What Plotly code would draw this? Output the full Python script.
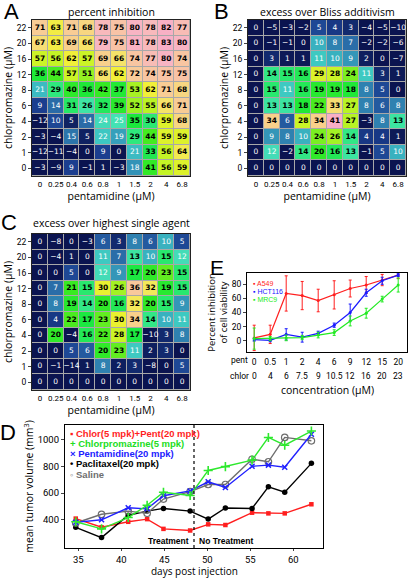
import plotly.graph_objects as go

W, H = 410, 578

# ---------------- data ----------------
pent_labels = ["0", "0.25", "0.4", "0.6", "0.8", "1", "1.5", "2", "4", "6.8"]
chlor_labels = ["0", "1", "2", "4", "6", "8", "12", "16", "20", "22"]  # bottom -> top

# rows listed from top (22 uM) to bottom (0 uM)
inhibition = [
    [71, 63, 71, 68, 78, 75, 80, 78, 82, 77],
    [67, 63, 69, 66, 79, 75, 81, 78, 83, 80],
    [57, 56, 62, 57, 69, 66, 74, 77, 80, 74],
    [36, 44, 57, 51, 66, 62, 72, 74, 75, 75],
    [21, 29, 40, 36, 42, 37, 53, 62, 71, 68],
    [9, 14, 31, 26, 32, 39, 52, 55, 66, 71],
    [-12, 10, 5, 14, 24, 25, 35, 30, 59, 68],
    [-3, -4, 15, 5, 22, 19, 29, 44, 59, 59],
    [-12, -11, -4, 0, 9, 0, 21, 33, 56, 64],
    [-3, -9, 9, -1, 1, -3, 18, 41, 56, 59],
]
bliss_excess = [
    [0, -5, -3, -2, 5, 4, 3, -4, -5, -10],
    [0, -1, -1, 0, 10, 8, 7, -2, -2, -6],
    [0, 3, 1, 1, 11, 10, 9, 2, 0, -7],
    [0, 14, 15, 16, 29, 28, 24, 11, 3, 1],
    [0, 15, 11, 16, 19, 19, 18, 8, 5, 0],
    [0, 13, 13, 18, 22, 33, 27, 8, 6, 8],
    [0, 34, 6, 28, 34, 41, 27, -3, 8, 13],
    [0, 9, 8, 10, 24, 26, 14, 4, 4, 1],
    [0, 12, -2, 14, 20, 16, 13, -1, 5, 10],
    [0, 0, 0, 0, 0, 0, 0, 0, 0, 0],
]
hsa_excess = [
    [0, -8, 0, -3, 6, 3, 8, 6, 10, 5],
    [0, -4, 1, 0, 11, 7, 13, 10, 15, 12],
    [0, 0, 5, 0, 12, 9, 17, 20, 23, 15],
    [0, 7, 21, 15, 30, 26, 36, 32, 19, 15],
    [0, 8, 19, 14, 20, 16, 32, 20, 15, 9],
    [0, 4, 22, 17, 23, 30, 34, 14, 10, 11],
    [0, 20, -4, 16, 22, 28, 17, -10, 3, 8],
    [0, 0, 5, 6, 20, 23, 11, 2, 3, 0],
    [0, -1, -14, 1, 8, 2, 3, -8, 0, 5],
    [0, 0, 0, 0, 0, 0, 0, 0, 0, 0],
]

# Panel E: cell viability dose response
e_pent = ["0", "0.5", "1", "2", "4", "6", "9", "12", "15", "20"]
e_chlor = ["0", "4", "6", "7.5", "9", "10.5", "12", "16", "20", "23"]
a549_mean = [4, 9, 67, 64, 57, 65, 74, 79, 86, 93]
a549_err = [18, 13, 25, 20, 16, 20, 12, 12, 8, 5]
hct116_mean = [1.5, 0.5, 9, 5, 10.5, 22, 40, 68, 85, 93]
hct116_err = [2, 2, 8, 7, 3, 3, 12, 5, 5, 2]
mrc9_mean = [3, 3, 4, 4.5, 8, 11.5, 28, 39, 59, 79]
mrc9_err = [15, 3, 4, 3, 4, 4, 7, 7, 4, 10]

# Panel D: xenograft tumour volume
days = [34.7, 37.7, 40.8, 43.0, 44.9, 48.0, 50.1, 52.1, 55.2, 57.1, 59.0, 62.1]
combo_vol = [409, 344, 385, 405, 332, 320, 366, 361, 453, 448, 448, 516]
chlor_vol = [385, 332, 417, 509, 606, 582, 769, 798, 846, 1016, 958, 1064]
pent_vol = [381, 400, 490, 482, 580, 616, 684, 642, 800, 809, 793, 1040]
pacli_vol = [344, 267, 434, 465, 485, 465, 405, 488, 485, 647, 606, 822]
saline_vol = [376, 441, 465, 448, 555, 611, 664, 664, 853, 834, 1016, 991]
treatment_end = 48.45

# ---------------- helpers ----------------
def px_x(p):
    return p / W


def px_y(p):
    return 1 - p / H


CS = [
    [0.00, "#0b1450"], [0.06, "#0f2262"], [0.11, "#1b3f90"], [0.17, "#2a6ca8"],
    [0.22, "#3496b8"], [0.26, "#3cc3c4"], [0.30, "#44e2b4"], [0.35, "#2ee87c"],
    [0.42, "#1ae83c"], [0.52, "#3aea20"], [0.60, "#88f022"], [0.68, "#c8f426"],
    [0.74, "#f0f032"], [0.79, "#f4e664"], [0.83, "#f8d08c"], [0.90, "#f8c4a4"],
    [0.95, "#f8b6c2"], [1.00, "#f8aec6"],
]

FONT = "Open Sans"
TICKFONT = "Roboto"
CELLFONT = "DejaVu Sans"

fig = go.Figure()


def add_heat(rows, zmax, xa, ya):
    z = rows[::-1]
    fig.add_trace(go.Heatmap(
        z=z, x=pent_labels, y=chlor_labels, zmin=0, zmax=zmax,
        colorscale=CS, showscale=False, xgap=1, ygap=1,
        xaxis=xa, yaxis=ya, hoverinfo="skip"))
    xs, ys, ts, cs = [], [], [], []
    for i, r in enumerate(z):
        for j, v in enumerate(r):
            xs.append(pent_labels[j])
            ys.append(chlor_labels[i])
            s = str(v).replace("-", "\u2212")
            dark = v / zmax < 0.305
            ts.append(s if dark else "<b>" + s + "</b>")
            cs.append("white" if dark else "black")
    fig.add_trace(go.Scatter(
        x=xs, y=ys, text=ts, mode="text", xaxis=xa, yaxis=ya,
        textfont=dict(family=CELLFONT, size=7.5, color=cs),
        hoverinfo="skip", showlegend=False))


add_heat(inhibition, 83, "x", "y")
add_heat(bliss_excess, 41, "x2", "y2")
add_heat(hsa_excess, 41, "x3", "y3")

# Panel E
e_idx = list(range(len(e_pent)))
for mean, err, col in [(a549_mean, a549_err, "#ff1f1f"),
                       (hct116_mean, hct116_err, "#1a1aff"),
                       (mrc9_mean, mrc9_err, "#22ea22")]:
    fig.add_trace(go.Scatter(
        x=e_idx, y=mean, mode="lines+markers", xaxis="x4", yaxis="y4",
        line=dict(color=col, width=1.2), marker=dict(color=col, size=3),
        error_y=dict(type="data", array=err, color=col, thickness=1, width=1.5),
        showlegend=False, cliponaxis=True))

# Panel D
d_series = [
    (combo_vol, "#ff1f1f", dict(symbol="square", size=4.5, color="#ff1f1f")),
    (pacli_vol, "#000000", dict(symbol="circle", size=5.5, color="#000000")),
    (saline_vol, "#6e6e6e", dict(symbol="circle-open", size=6.5, color="#6e6e6e", line=dict(width=1.2))),
    (pent_vol, "#2020ff", dict(symbol="x-thin", size=5, color="#2020ff", line=dict(width=1.5, color="#2020ff"))),
    (chlor_vol, "#2ee82e", dict(symbol="cross-thin", size=6.5, color="#2ee82e", line=dict(width=1.6, color="#2ee82e"))),
]
for vals, col, mk in d_series:
    fig.add_trace(go.Scatter(
        x=days, y=vals, mode="lines+markers", xaxis="x5", yaxis="y5",
        line=dict(color=col, width=1.4), marker=mk, showlegend=False))

# ---------------- axes ----------------
tickf = dict(family=TICKFONT, size=8, color="black")
etickf = dict(family=TICKFONT, size=8.5, color="black")
dtickf = dict(family=TICKFONT, size=9.5, color="black")
titlef = dict(family=FONT, size=10.5, color="black")

heat_x = [32, 190]
heat_x2 = [248, 406]
heat_y = [20, 176]
heat_y3 = [234, 390]


def heat_axes(xdom, ydom):
    xa = dict(type="category", domain=[px_x(xdom[0]), px_x(xdom[1])],
              showline=True, mirror=True, linecolor="#222", linewidth=1,
              ticks="", tickangle=0, tickfont=tickf, showgrid=False, zeroline=False,
              title=dict(text="pentamidine (\u00b5M)", font=titlef, standoff=2))
    ya = dict(type="category", domain=[px_y(ydom[1]), px_y(ydom[0])],
              showline=True, mirror=True, linecolor="#222", linewidth=1,
              ticks="outside", ticklen=3, tickfont=etickf, showgrid=False,
              zeroline=False,
              title=dict(text="chlorpromazine (\u00b5M)", font=titlef, standoff=2))
    return xa, ya


xa1, ya1 = heat_axes(heat_x, heat_y)
xa2, ya2 = heat_axes(heat_x2, heat_y)
xa3, ya3 = heat_axes(heat_x, heat_y3)

fig.update_layout(
    width=W, height=H, autosize=False,
    margin=dict(l=0, r=0, t=0, b=0),
    paper_bgcolor="white", plot_bgcolor="white",
    font=dict(family=FONT, size=10, color="black"),
    xaxis=dict(**xa1, anchor="y"), yaxis=dict(**ya1, anchor="x"),
    xaxis2=dict(**xa2, anchor="y2"), yaxis2=dict(**ya2, anchor="x2"),
    xaxis3=dict(**xa3, anchor="y3"), yaxis3=dict(**ya3, anchor="x3"),
    xaxis4=dict(domain=[px_x(247), px_x(407)], anchor="y4", range=[-0.45, 9.55],
                tickvals=e_idx, ticktext=e_pent, ticks="", tickangle=0,
                tickfont=etickf, ticklabelstandoff=2,
                showline=True, mirror=True, linecolor="black", linewidth=1,
                showgrid=False, zeroline=False),
    yaxis4=dict(domain=[px_y(352), px_y(273)], anchor="x4", range=[-16, 96],
                tickvals=[0, 20, 40, 60, 80], ticks="outside", ticklen=3,
                tickfont=etickf, showline=True, mirror=True, linecolor="black",
                linewidth=1, showgrid=False, zeroline=False,
                title=dict(text="Percent inhibition<br>of cell viability",
                           font=dict(family=FONT, size=9.5), standoff=2)),
    xaxis5=dict(domain=[px_x(65), px_x(323)], anchor="y5", range=[33.45, 63.45],
                tickvals=[35, 40, 45, 50, 55, 60], ticks="outside", ticklen=2,
                tickangle=0, tickfont=dtickf, showline=True,
                mirror=True, linecolor="black", linewidth=1.2, showgrid=False,
                zeroline=False),
    yaxis5=dict(domain=[px_y(548), px_y(425)], anchor="x5", range=[189, 1109],
                tickvals=[400, 600, 800, 1000], ticks="outside", ticklen=3,
                tickfont=dtickf, showline=True, mirror=True,
                linecolor="black", linewidth=1.2, showgrid=False, zeroline=False,
                title=dict(text="mean tumor volume (mm<sup>3</sup>)", font=titlef,
                           standoff=1)),
)

# gray background behind heatmap gaps
shapes = []
for xr, yr in [("x", "y"), ("x2", "y2"), ("x3", "y3")]:
    shapes.append(dict(type="rect", xref=xr + " domain", yref=yr + " domain",
                       x0=0, x1=1, y0=0, y1=1, layer="below",
                       fillcolor="#a8a8a8", line=dict(width=0)))
shapes.append(dict(type="line", xref="x5", yref="y5 domain", x0=treatment_end,
                   x1=treatment_end, y0=0, y1=1,
                   line=dict(color="black", width=1.2, dash="dot")))

ann = []


def label(txt, x, y, size=24):
    ann.append(dict(text=txt, x=px_x(x), y=px_y(y), xref="paper", yref="paper",
                    showarrow=False, xanchor="center", yanchor="middle",
                    font=dict(family="Liberation Sans", size=size, color="black")))


label("A", 11, 12, 22)
label("B", 221, 12, 22)
label("C", 9, 222, 22)
label("E", 217, 267, 21)
label("D", 8, 432, 22)


def title(txt, x, y, size=10.5):
    ann.append(dict(text=txt, x=px_x(x), y=px_y(y), xref="paper", yref="paper",
                    showarrow=False, xanchor="center", yanchor="middle",
                    font=dict(family=FONT, size=size, color="black")))


title("percent inhibition", 111, 12)
title("excess over Bliss additivism", 327, 12)
title("excess over highest single agent", 111, 223)
title("concentration (\u00b5M)", 327, 390)
title("days post injection", 194, 571, 10)

# E second row of tick labels and row names
for i, c in enumerate(e_chlor):
    ann.append(dict(text=c, x=i, xref="x4", y=px_y(376), yref="paper",
                    showarrow=False, xanchor="center", yanchor="middle",
                    font=etickf))
ann.append(dict(text="pent", x=px_x(250), y=px_y(360), xref="paper", yref="paper",
                showarrow=False, xanchor="right", yanchor="middle",
                font=etickf))
ann.append(dict(text="chlor", x=px_x(251), y=px_y(376), xref="paper", yref="paper",
                showarrow=False, xanchor="right", yanchor="middle",
                font=etickf))

# E legend
for i, (name, col) in enumerate([("A549", "#ff1f1f"), ("HCT116", "#1a1aff"),
                                 ("MRC9", "#22ea22")]):
    ann.append(dict(text="\u25aa " + name, x=px_x(251), y=px_y(283 + 8 * i),
                    xref="paper", yref="paper", showarrow=False,
                    xanchor="left", yanchor="middle",
                    font=dict(family="Liberation Sans", size=7, color=col)))

# D legend
d_leg = [("\u25aa Chlor(5 mpk)+Pent(20 mpk)", "#ff1f1f"),
         ("+ Chlorpromazine(5 mpk)", "#22dd22"),
         ("\u00d7 Pentamidine(20 mpk)", "#2020ff"),
         ("\u2022 Paclitaxel(20 mpk)", "#000000"),
         ("\u25e6 Saline", "#6e6e6e")]
for i, (name, col) in enumerate(d_leg):
    ann.append(dict(text="<b>" + name + "</b>", x=px_x(68), y=px_y(433 + 10.3 * i),
                    xref="paper", yref="paper", showarrow=False,
                    xanchor="left", yanchor="middle",
                    font=dict(family="Liberation Sans", size=9.5, color=col)))

# treatment labels
ann.append(dict(text="<b>Treatment</b>", x=treatment_end, xref="x5", xshift=-3,
                y=px_y(541), yref="paper", showarrow=False, xanchor="right",
                yanchor="middle", font=dict(family="Liberation Sans", size=8.5)))
ann.append(dict(text="<b>No Treatment</b>", x=treatment_end, xref="x5", xshift=3,
                y=px_y(541), yref="paper", showarrow=False, xanchor="left",
                yanchor="middle", font=dict(family="Liberation Sans", size=8.5)))

fig.update_layout(shapes=shapes, annotations=ann)
fig.write_html(
    "out.html",
    config={"displayModeBar": False},
    post_script="document.body.style.margin='0px';document.body.style.overflow='hidden';",
)
